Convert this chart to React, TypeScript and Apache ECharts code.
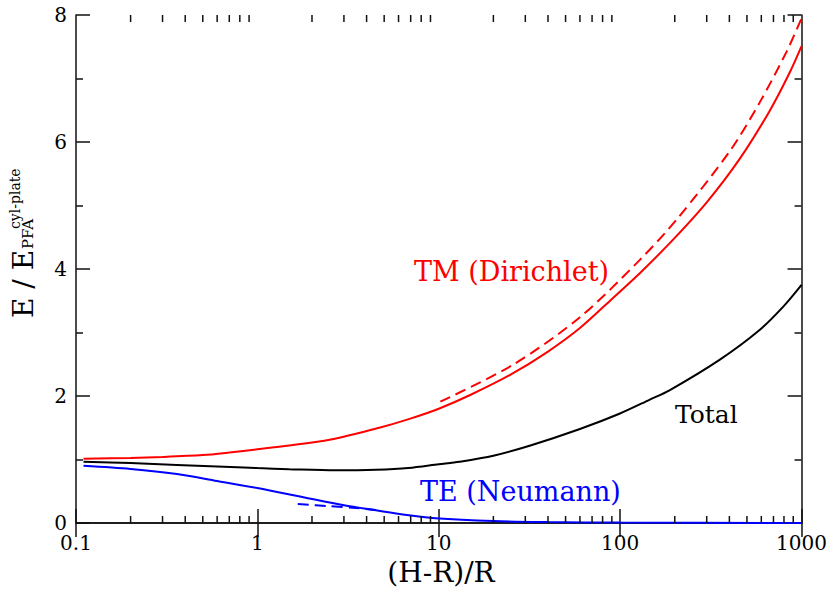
import React, { useEffect, useRef } from "react";
import * as echarts from "echarts";

// ---- data ----
const tmX = [0.11, 0.2, 0.3, 0.5, 0.7, 1, 1.5, 2.5, 4.7, 6.9, 10, 15, 25, 40, 60, 91, 130, 194, 300, 455, 667, 859, 1000];
const tmY = [1.01, 1.025, 1.04, 1.07, 1.11, 1.16, 1.22, 1.31, 1.5, 1.64, 1.8, 2.02, 2.34, 2.7, 3.07, 3.54, 3.95, 4.45, 5.05, 5.73, 6.49, 7.09, 7.51];

const tmAsymX = [10.2, 25.6, 60, 128, 205, 401, 587, 826, 1000];
const tmAsymY = [1.91, 2.49, 3.24, 4.14, 4.78, 5.85, 6.62, 7.42, 7.95];

const totalX = [0.11, 0.2, 0.36, 0.6, 1, 1.5, 2.7, 4.5, 6.8, 10, 13, 20, 32, 60, 99, 145, 187, 353, 587, 800, 1000];
const totalY = [0.965, 0.945, 0.915, 0.89, 0.865, 0.848, 0.83, 0.838, 0.865, 0.925, 0.965, 1.06, 1.22, 1.48, 1.72, 1.94, 2.09, 2.57, 3.04, 3.42, 3.75];

const teX = [0.11, 0.2, 0.36, 0.6, 1, 1.9, 3, 4.5, 6.5, 9.6, 20, 40, 100, 1000];
const teY = [0.9, 0.85, 0.77, 0.66, 0.55, 0.39, 0.28, 0.2, 0.13, 0.075, 0.03, 0.015, 0.006, 0.001];

const teAsymX = [1.67, 2.5, 3.5, 4.5];
const teAsymY = [0.3, 0.265, 0.235, 0.205];

const xTickLabels = ["0.1", "1", "10", "100", "1000"];
const xMinorTicks = [
  0.2, 0.3, 0.4, 0.5, 0.6, 0.7, 0.8, 0.9,
  2, 3, 4, 5, 6, 7, 8, 9,
  20, 30, 40, 50, 60, 70, 80, 90,
  200, 300, 400, 500, 600, 700, 800, 900,
];

const Y_MIN = 0;
const Y_MAX = 8;

const FONT = "DejaVu Serif";
const AXIS_COLOR = "#111";

function zip(xs: number[], ys: number[]) {
  return xs.map((x, i) => [x, ys[i]]);
}

export default function App() {
  const ref = useRef<HTMLDivElement>(null);
  useEffect(() => {
    if (!ref.current) return;
    const chart = echarts.init(ref.current, null, { renderer: "svg" });

    const xAxisBase = {
      type: "log" as const,
      logBase: 10,
      min: 0.1,
      max: 1000,
      axisLine: { show: true, lineStyle: { color: AXIS_COLOR, width: 1.5 } },
      axisTick: { show: true, inside: true, length: 14, lineStyle: { color: AXIS_COLOR, width: 1.5 } },
      splitLine: { show: false },
      minorTick: { show: false },
    };
    const yAxisBase = {
      type: "value" as const,
      min: Y_MIN,
      max: Y_MAX,
      interval: 2,
      axisLine: { show: true, lineStyle: { color: AXIS_COLOR, width: 1.5 } },
      axisTick: { show: true, inside: true, length: 14, lineStyle: { color: AXIS_COLOR, width: 1.5 } },
      minorTick: { show: true, splitNumber: 2, length: 7, lineStyle: { color: AXIS_COLOR, width: 1.5 } },
      splitLine: { show: false },
      minorSplitLine: { show: false },
    };

    const lineCommon = {
      type: "line" as const,
      showSymbol: false,
      symbol: "none",
      smooth: 0.3,
      xAxisIndex: 0,
      yAxisIndex: 0,
      z: 3,
    };

    const textStyle = (size: number, color: string) => ({
      fill: color,
      fontFamily: FONT,
      fontSize: size,
      align: "left",
      verticalAlign: "middle",
    });

    const textGraphics: any[] = [
      { type: "text", x: 414, y: 271, style: { text: "TM (Dirichlet)", ...textStyle(27, "#ff0000") }, z: 10 },
      { type: "text", x: 675, y: 414, style: { text: "Total", ...textStyle(25, "#000") }, z: 10 },
      { type: "text", x: 420, y: 491, style: { text: "TE (Neumann)", ...textStyle(27, "#0000ff") }, z: 10 },
      {
        type: "text",
        x: 441,
        y: 572,
        style: { text: "(H-R)/R", ...textStyle(28, "#000"), align: "center" },
        z: 10,
      },
      { type: "text", x: 23, y: 318, rotation: Math.PI / 2, style: { text: "E / E", ...textStyle(28, "#000") }, z: 10 },
      { type: "text", x: 28, y: 249, rotation: Math.PI / 2, style: { text: "PFA", ...textStyle(15, "#000") }, z: 10 },
      { type: "text", x: 15, y: 229, rotation: Math.PI / 2, style: { text: "cyl-plate", ...textStyle(14, "#000") }, z: 10 },
    ];

    chart.setOption({
      animation: false,
      backgroundColor: "#fff",
      textStyle: { fontFamily: FONT },
      grid: { left: 76, right: 28, top: 15, bottom: 74, containLabel: false },
      xAxis: [
        {
          ...xAxisBase,
          position: "bottom",
          axisLabel: {
            show: true,
            fontFamily: FONT,
            fontSize: 20,
            color: "#000",
            margin: 10,
            formatter: (v: number) => {
              const i = Math.round(Math.log10(v)) + 1;
              return xTickLabels[i] ?? "";
            },
          },
        },
        { ...xAxisBase, position: "top", axisLabel: { show: false } },
      ],
      yAxis: [
        {
          ...yAxisBase,
          position: "left",
          axisLabel: { show: true, fontFamily: FONT, fontSize: 20, color: "#000", margin: 9 },
        },
        { ...yAxisBase, position: "right", axisLabel: { show: false } },
      ],
      series: [
        { ...lineCommon, name: "TM", data: zip(tmX, tmY), lineStyle: { color: "#ff0000", width: 2 } },
        {
          ...lineCommon,
          name: "TM asymptote",
          data: zip(tmAsymX, tmAsymY),
          lineStyle: { color: "#ff0000", width: 2, type: [11, 6] },
        },
        { ...lineCommon, name: "Total", data: zip(totalX, totalY), lineStyle: { color: "#000000", width: 2 } },
        { ...lineCommon, name: "TE", data: zip(teX, teY), lineStyle: { color: "#0000ff", width: 2 } },
        {
          ...lineCommon,
          name: "TE asymptote",
          data: zip(teAsymX, teAsymY),
          lineStyle: { color: "#0000ff", width: 2, type: [11, 6] },
        },
      ],
      graphic: textGraphics,
    });

    // minor x ticks (2..9 per decade) on bottom and top edges, placed via the chart's own scales
    const finder = { xAxisIndex: 0, yAxisIndex: 0 };
    const tickGraphics: any[] = [];
    xMinorTicks.forEach((v) => {
      const pb = chart.convertToPixel(finder, [v, Y_MIN]) as number[];
      const pt = chart.convertToPixel(finder, [v, Y_MAX]) as number[];
      if (!pb || !pt) return;
      tickGraphics.push({
        type: "line",
        z: 100,
        silent: true,
        shape: { x1: pb[0], y1: pb[1], x2: pb[0], y2: pb[1] - 7 },
        style: { stroke: AXIS_COLOR, lineWidth: 1.5 },
      });
      tickGraphics.push({
        type: "line",
        z: 100,
        silent: true,
        shape: { x1: pt[0], y1: pt[1], x2: pt[0], y2: pt[1] + 7 },
        style: { stroke: AXIS_COLOR, lineWidth: 1.5 },
      });
    });
    chart.setOption({ graphic: [...textGraphics, ...tickGraphics] });

    return () => chart.dispose();
  }, []);

  return (
    <div
      ref={ref}
      style={{ position: "absolute", left: 0, top: 0, width: 830, height: 597, background: "#fff" }}
    />
  );
}
